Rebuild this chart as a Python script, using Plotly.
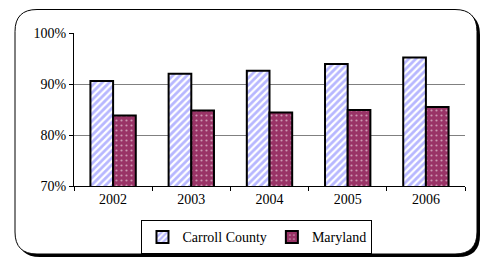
import plotly.graph_objects as go

years = ["2002", "2003", "2004", "2005", "2006"]
carroll = [90.6, 92.0, 92.6, 93.9, 95.2]
maryland = [83.8, 84.8, 84.4, 84.9, 85.5]
y_ticks = [70, 80, 90, 100]
y_tick_labels = ["70%", "80%", "90%", "100%"]

W, H = 485, 259
L, R, T, B = 74, 465, 33, 186  # plot area in pixels

def px(x):
    return (x - L) / (R - L)

def py(y):
    return (B - y) / (B - T)

def rrect(x0, y0, x1, y1, r):
    pts = [
        f"M {px(x0 + r)} {py(y0)}",
        f"L {px(x1 - r)} {py(y0)}",
        f"Q {px(x1)} {py(y0)} {px(x1)} {py(y0 + r)}",
        f"L {px(x1)} {py(y1 - r)}",
        f"Q {px(x1)} {py(y1)} {px(x1 - r)} {py(y1)}",
        f"L {px(x0 + r)} {py(y1)}",
        f"Q {px(x0)} {py(y1)} {px(x0)} {py(y1 - r)}",
        f"L {px(x0)} {py(y0 + r)}",
        f"Q {px(x0)} {py(y0)} {px(x0 + r)} {py(y0)}",
        "Z",
    ]
    return " ".join(pts)

font = dict(family="Times New Roman, Liberation Serif, serif", size=14, color="black")

fig = go.Figure()
fig.add_trace(go.Bar(
    x=years, y=carroll, name="Carroll County",
    marker=dict(color="white", line=dict(color="black", width=2),
                pattern=dict(shape="/", fgcolor="#7070ff", bgcolor="white", size=5, solidity=0.55)),
))
fig.add_trace(go.Bar(
    x=years, y=maryland, name="Maryland",
    marker=dict(color="#993366", line=dict(color="black", width=2),
                pattern=dict(shape=".", fgcolor="white", bgcolor="#993366", size=5, solidity=0.15)),
))

shapes = [
    dict(type="path", xref="paper", yref="paper", path=rrect(18, 12.5, 480, 257, 22),
         fillcolor="black", line=dict(width=0), layer="below"),
    dict(type="path", xref="paper", yref="paper", path=rrect(15, 9.5, 477, 254, 22),
         fillcolor="white", line=dict(color="black", width=1), layer="below"),
]

fig.update_layout(
    width=W, height=H,
    margin=dict(l=L, r=W - R, t=T, b=H - B, autoexpand=False),
    paper_bgcolor="white",
    plot_bgcolor="rgba(0,0,0,0)",
    barmode="group", bargap=0.42, bargroupgap=0,
    font=font,
    shapes=shapes,
    showlegend=True,
    legend=dict(orientation="h", x=0.468, xanchor="center", y=-0.225, yanchor="top",
                bordercolor="black", borderwidth=1, bgcolor="white",
                font=font, itemwidth=30, traceorder="normal",
                tracegroupgap=0, valign="middle"),
    xaxis=dict(showline=True, linecolor="black", linewidth=1, ticks="outside",
               tickson="boundaries", ticklen=4, tickcolor="black", showgrid=False,
               tickfont=font, automargin=False),
    yaxis=dict(range=[70, 100], tickvals=y_ticks, ticktext=y_tick_labels,
               showline=True, linecolor="black", linewidth=1, ticks="outside",
               ticklen=4, tickcolor="black", showgrid=True, gridcolor="#808080",
               gridwidth=1, zeroline=False, tickfont=font, automargin=False),
)

fig.write_html("out.html", config={"displayModeBar": False},
               post_script="document.body.style.margin='0';")
